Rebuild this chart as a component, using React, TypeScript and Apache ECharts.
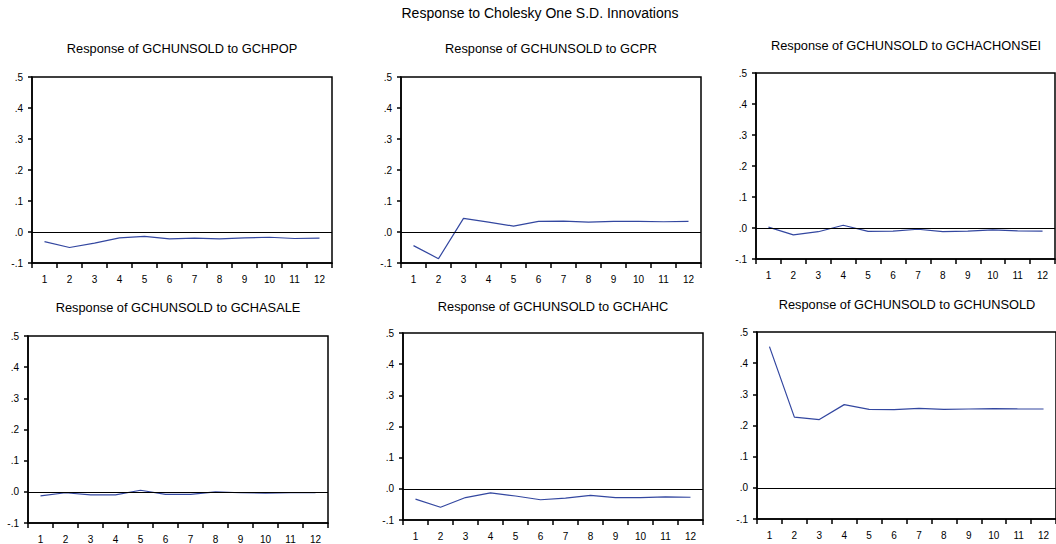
import React, { useEffect, useRef } from "react";
import * as echarts from "echarts";

const periods = ["1", "2", "3", "4", "5", "6", "7", "8", "9", "10", "11", "12"];

const mainTitle = "Response to Cholesky One S.D. Innovations";

const panelTitles = [
  "Response of GCHUNSOLD to GCHPOP",
  "Response of GCHUNSOLD to GCPR",
  "Response of GCHUNSOLD to GCHACHONSEI",
  "Response of GCHUNSOLD to GCHASALE",
  "Response of GCHUNSOLD to GCHAHC",
  "Response of GCHUNSOLD to GCHUNSOLD",
];

const toGCHPOP = [-0.031, -0.05, -0.036, -0.019, -0.014, -0.022, -0.02, -0.022, -0.019, -0.017, -0.021, -0.02];
const toGCPR = [-0.044, -0.086, 0.044, 0.032, 0.019, 0.034, 0.035, 0.032, 0.034, 0.034, 0.033, 0.034];
const toGCHACHONSEI = [0.003, -0.022, -0.012, 0.009, -0.011, -0.01, -0.004, -0.012, -0.01, -0.006, -0.009, -0.01];
const toGCHASALE = [-0.013, -0.003, -0.01, -0.01, 0.005, -0.008, -0.008, 0.0, -0.003, -0.004, -0.003, -0.003];
const toGCHAHC = [-0.033, -0.059, -0.028, -0.013, -0.023, -0.035, -0.03, -0.021, -0.028, -0.028, -0.026, -0.027];
const toGCHUNSOLD = [0.453, 0.227, 0.219, 0.267, 0.252, 0.251, 0.255, 0.252, 0.253, 0.254, 0.253, 0.253];

const seriesData = [toGCHPOP, toGCPR, toGCHACHONSEI, toGCHASALE, toGCHAHC, toGCHUNSOLD];

const yMin = -0.1;
const yMax = 0.5;
const yStep = 0.1;

// layout (px)
const grids = [
  { left: 32, top: 77, width: 300, height: 186 },
  { left: 401, top: 77, width: 300, height: 186 },
  { left: 756, top: 73, width: 299, height: 186 },
  { left: 28, top: 336, width: 300, height: 187 },
  { left: 403, top: 333, width: 300, height: 187 },
  { left: 757, top: 332, width: 300, height: 187 },
];

const titlePos = [
  { x: 182, y: 48 },
  { x: 551, y: 48 },
  { x: 906, y: 45 },
  { x: 178, y: 307 },
  { x: 553, y: 306 },
  { x: 907, y: 304 },
];

const FONT = "'Liberation Sans', Arial, sans-serif";
const LINE_COLOR = "#3347a0";

export default function App() {
  const ref = useRef<HTMLDivElement>(null);

  useEffect(() => {
    if (!ref.current) return;
    const chart = echarts.init(ref.current, null, { renderer: "svg" });

    const fmt = (v: number) => {
      const s = v.toFixed(1);
      return s.replace("0.", ".");
    };

    const option: any = {
      animation: false,
      backgroundColor: "#ffffff",
      grid: grids.map((g) => ({
        ...g,
        show: true,
        borderColor: "#000",
        borderWidth: 1.5,
      })),
      xAxis: grids.map((_, i) => ({
        type: "category",
        gridIndex: i,
        data: periods,
        axisLine: { onZero: false, lineStyle: { color: "#000", width: 1.5 } },
        axisTick: { show: true, length: 5, lineStyle: { color: "#000", width: 1.5 } },
        axisLabel: { interval: 0, color: "#000", fontSize: 10, fontFamily: FONT, margin: 11 },
      })),
      yAxis: grids.map((_, i) => ({
        type: "value",
        gridIndex: i,
        min: yMin,
        max: yMax,
        interval: yStep,
        axisLine: { show: true, onZero: false, lineStyle: { color: "#000", width: 1.5 } },
        axisTick: { show: true, length: 4, lineStyle: { color: "#000", width: 1.5 } },
        axisLabel: { color: "#000", fontSize: 10, fontFamily: FONT, margin: 9, formatter: fmt },
        splitLine: { show: false },
      })),
      series: seriesData.map((d, i) => ({
        type: "line",
        xAxisIndex: i,
        yAxisIndex: i,
        data: d,
        showSymbol: false,
        symbol: "none",
        lineStyle: { color: LINE_COLOR, width: 1.2 },
        itemStyle: { color: LINE_COLOR },
        silent: true,
        markLine: {
          silent: true,
          symbol: "none",
          label: { show: false },
          lineStyle: { color: "#000", width: 1.2, type: "solid" },
          data: [{ yAxis: 0 }],
        },
      })),
      graphic: [
        {
          type: "text",
          x: 540,
          y: 13,
          style: {
            text: mainTitle,
            fontSize: 14,
            fontFamily: FONT,
            fill: "#000",
            textAlign: "center",
            textVerticalAlign: "middle",
          },
        },
        ...panelTitles.map((t, i) => ({
          type: "text",
          x: titlePos[i].x,
          y: titlePos[i].y,
          style: {
            text: t,
            fontSize: 12.8,
            fontFamily: FONT,
            fill: "#000",
            textAlign: "center",
            textVerticalAlign: "middle",
          },
        })),
      ],
    };

    chart.setOption(option);
    return () => chart.dispose();
  }, []);

  return (
    <div
      ref={ref}
      style={{ position: "fixed", left: 0, top: 0, width: 1056, height: 544, background: "#fff" }}
    />
  );
}
